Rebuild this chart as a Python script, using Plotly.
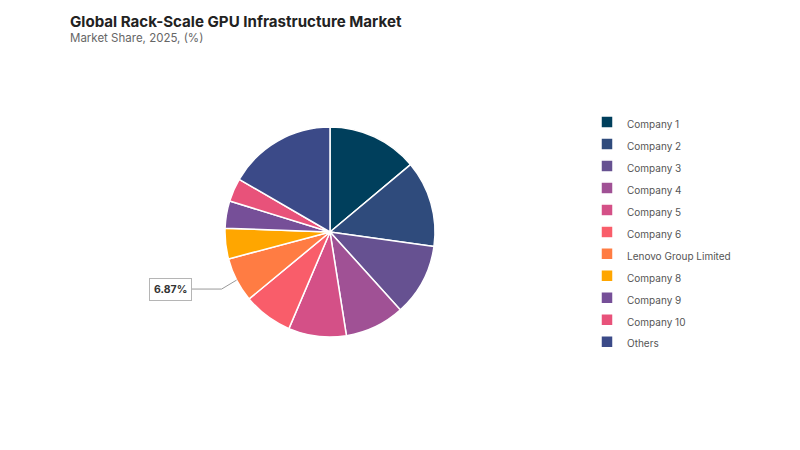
import math
import plotly.graph_objects as go

# market share 2025 (%)
companies = ["Company 1", "Company 2", "Company 3", "Company 4", "Company 5", "Company 6",
             "Lenovo Group Limited", "Company 8", "Company 9", "Company 10", "Others"]
shares = [13.9, 13.3, 11.1, 9.2, 8.9, 7.6, 6.87, 4.7, 4.2, 3.6, 16.63]
colors = ["#003f5c", "#2f4b7c", "#665191", "#a05195", "#d45087", "#f95d6a",
          "#ff7c43", "#ffa600", "#764f98", "#e8527a", "#3b4a88"]
labelled = "Lenovo Group Limited"

W, H = 800, 450
OFF = 8  # page body margin
cx, cy, r = 330 - OFF, 232 - OFF, 105  # pie centre / radius in px


def px(x, y):
    return x / W, 1 - y / H


fig = go.Figure()
fig.add_trace(go.Pie(
    labels=[f'<span style="font-size:10px">{c}</span>' for c in companies],
    values=shares,
    sort=False,
    direction="clockwise",
    rotation=0,
    marker=dict(colors=colors, line=dict(color="white", width=1.5)),
    textinfo="none",
    hoverinfo="label+percent",
    domain=dict(x=[(cx - r) / W, (cx + r) / W], y=[1 - (cy + r) / H, 1 - (cy - r) / H]),
))

# leader line + boxed label for the one labelled slice
total = sum(shares)
i = companies.index(labelled)
start = sum(shares[:i]) / total * 360
mid = math.radians(start + shares[i] / total * 360 / 2)
ex, ey = cx + r * math.sin(mid), cy - r * math.cos(mid)
kx, ky = ex - 15, ey + 9
bx = kx - 30

p1, p2, p3 = px(ex, ey), px(kx, ky), px(bx, ky)
fig.add_shape(type="path", xref="paper", yref="paper",
              path=f"M {p1[0]} {p1[1]} L {p2[0]} {p2[1]} L {p3[0]} {p3[1]}",
              line=dict(color="#9a9a9a", width=1))
fig.add_annotation(x=p3[0], y=p3[1], xref="paper", yref="paper", xanchor="right",
                   text=f"<b>{shares[i]:.2f}%</b>", showarrow=False,
                   font=dict(size=10.5, color="#333333"),
                   bordercolor="#b5b5b5", borderwidth=1, borderpad=4, bgcolor="white")

tx, ty = px(68 - OFF, 10 - OFF)
fig.add_annotation(x=tx, y=ty, xref="paper", yref="paper", xanchor="left", yanchor="top",
                   text="<b>Global Rack-Scale GPU Infrastructure Market</b>", showarrow=False,
                   font=dict(size=15.1, color="#222222"))
sx, sy = px(68 - OFF, 29 - OFF)
fig.add_annotation(x=sx, y=sy, xref="paper", yref="paper", xanchor="left", yanchor="top",
                   text="Market Share, 2025, (%)", showarrow=False,
                   font=dict(size=11.5, color="#666666"))

lx, ly = px(587 - OFF, 106 - OFF)
fig.update_layout(
    width=W, height=H,
    margin=dict(l=0, r=0, t=0, b=0),
    paper_bgcolor="white",
    plot_bgcolor="white",
    font=dict(family="Inter, Open Sans, sans-serif"),
    legend=dict(x=lx, y=ly, xanchor="left", yanchor="top",
                font=dict(size=14.6, color="#555555"), itemwidth=30),
)

fig.write_html("out.html")
